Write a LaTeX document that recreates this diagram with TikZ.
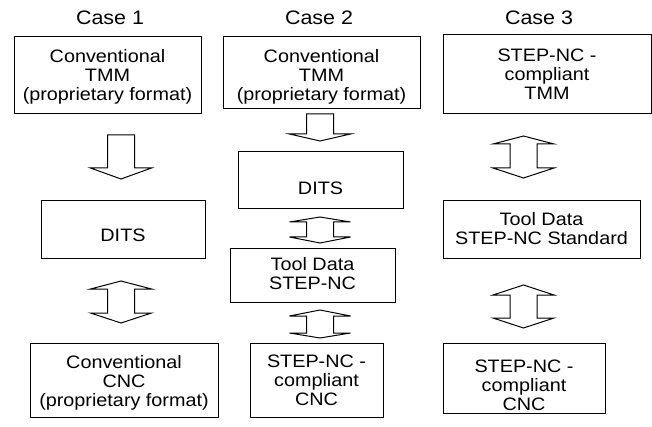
\documentclass[tikz,border=0pt]{standalone}
\usepackage{fontspec}
\setmainfont{Liberation Sans}[FakeStretch=1.1]
\begin{document}
\begin{tikzpicture}[x=1pt,y=-1pt,
  box/.style={draw, line width=1.4pt, inner sep=0pt, anchor=north west},
  boxtext/.style={font=\fontsize{18}{19}\selectfont, align=center, inner sep=0pt, anchor=north},
  casetitle/.style={font=\fontsize{19.5}{22}\selectfont, inner sep=0pt, anchor=base},
  arrowline/.style={draw, line width=1pt, fill=white, line join=miter},
  % double-headed block arrow, origin at the upper tip
  % #1 = tip-to-tip length, #2 = upper head height, #3 = lower head height
  pics/dblarrow/.style n args={3}{code={
    \draw[arrowline] (0,0) -- (30.5,#2) -- (13.5,#2) -- (13.5,#1-#3) -- (30.5,#1-#3)
      -- (0,#1) -- (-30.5,#1-#3) -- (-13.5,#1-#3) -- (-13.5,#2) -- (-30.5,#2) -- cycle;
  }},
  % single block arrow pointing down, origin at the top of the stem
  % #1 = length from stem top to tip, #2 = head height
  pics/downarrow/.style n args={2}{code={
    \draw[arrowline] (-13.5,0) -- (13.5,0) -- (13.5,#1-#2) -- (30.5,#1-#2)
      -- (0,#1) -- (-30.5,#1-#2) -- (-13.5,#1-#2) -- cycle;
  }},
]
\useasboundingbox (0,0) rectangle (652,427);

% column titles
\node[casetitle] (t1) at (110,25) {Case 1};
\node[casetitle] (t2) at (319,25) {Case 2};
\node[casetitle] (t3) at (539,25) {Case 3};

% Case 1
\node[box, minimum width=187pt, minimum height=77pt] (c1tmm) at (14,36) {};
\node[boxtext] (c1tmmtxt) at (107.5,49) {Conventional\\TMM\\(proprietary format)};
\node[box, minimum width=164pt, minimum height=58pt] (c1dits) at (41,200) {};
\node[boxtext] (c1ditstxt) at (123,229) {DITS};
\node[box, minimum width=188pt, minimum height=74pt] (c1cnc) at (30,343) {};
\node[boxtext] (c1cnctxt) at (124,355) {Conventional\\CNC\\(proprietary format)};

\pic at (121,135) {downarrow={44}{11}};
\pic at (121,281) {dblarrow={42}{8}{10}};

% Case 2
\node[box, minimum width=197pt, minimum height=72pt] (c2tmm) at (223,36) {};
\node[boxtext] (c2tmmtxt) at (321.5,49) {Conventional\\TMM\\(proprietary format)};
\node[box, minimum width=165pt, minimum height=57pt] (c2dits) at (238,151) {};
\node[boxtext] (c2ditstxt) at (320.5,182) {DITS};
\node[box, minimum width=165pt, minimum height=54pt] (c2tool) at (230,248) {};
\node[boxtext] (c2tooltxt) at (312.5,257) {Tool Data\\STEP-NC};
\node[box, minimum width=133pt, minimum height=74pt] (c2cnc) at (250,343) {};
\node[boxtext] (c2cnctxt) at (316.5,355) {STEP-NC -\\compliant\\CNC};

\pic at (320,114) {downarrow={27}{7}};
\pic at (320,217) {dblarrow={26}{5}{6}};
\pic at (320,310) {dblarrow={28}{6}{5}};

% Case 3
\node[box, minimum width=208pt, minimum height=79pt] (c3tmm) at (443,34) {};
\node[boxtext] (c3tmmtxt) at (547,49) {STEP-NC -\\compliant\\TMM};
\node[box, minimum width=197pt, minimum height=58pt] (c3tool) at (443,200) {};
\node[boxtext] (c3tooltxt) at (541.5,212) {Tool Data\\STEP-NC Standard};
\node[box, minimum width=162pt, minimum height=70pt] (c3cnc) at (443,343) {};
\node[boxtext] (c3cnctxt) at (524,360) {STEP-NC -\\compliant\\CNC};

\pic at (523.5,136) {dblarrow={42}{8}{10}};
\pic at (523.5,285) {dblarrow={43}{10}{10}};
\end{tikzpicture}
\end{document}
